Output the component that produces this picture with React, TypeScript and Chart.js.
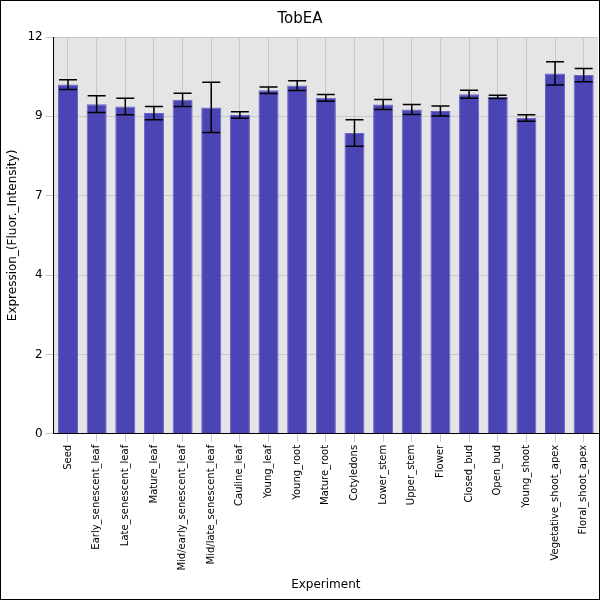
import React, { useEffect, useRef } from "react";
import { Chart, registerables } from "chart.js";
Chart.register(...registerables);

const categories = ["Seed","Early_senescent_leaf","Late_senescent_leaf","Mature_leaf","Mid/early_senescent_leaf","Mid/late_senescent_leaf","Cauline_leaf","Young_leaf","Young_root","Mature_root","Cotyledons","Lower_stem","Upper_stem","Flower","Closed_bud","Open_bud","Young_shoot","Vegetative_shoot_apex","Floral_shoot_apex"];
const values = [10.56,9.97,9.9,9.7,10.1,9.87,9.64,10.39,10.53,10.16,9.1,9.96,9.81,9.76,10.27,10.19,9.55,10.9,10.85];
const errors = [0.15,0.25,0.25,0.2,0.2,0.76,0.1,0.1,0.15,0.1,0.4,0.15,0.15,0.15,0.12,0.05,0.1,0.35,0.2];
const tickValues = [0,2.4,4.8,7.2,9.6,12];

const errPlugin = {
  id: "err",
  beforeDraw(chart: any) {
    const { ctx, chartArea: a } = chart;
    ctx.save();
    ctx.fillStyle = "#e5e5e5";
    ctx.fillRect(a.left, a.top, a.right - a.left, a.bottom - a.top);
    ctx.restore();
  },
  afterDatasetsDraw(chart: any) {
    const { ctx } = chart;
    const meta = chart.getDatasetMeta(0);
    const y = chart.scales.y;
    ctx.save();
    ctx.strokeStyle = "#000";
    ctx.lineWidth = 1.5;
    meta.data.forEach((b: any, i: number) => {
      const t = y.getPixelForValue(values[i] + errors[i]);
      const bo = y.getPixelForValue(values[i] - errors[i]);
      ctx.beginPath();
      ctx.moveTo(b.x, t); ctx.lineTo(b.x, bo);
      ctx.moveTo(b.x - 9, t); ctx.lineTo(b.x + 9, t);
      ctx.moveTo(b.x - 9, bo); ctx.lineTo(b.x + 9, bo);
      ctx.stroke();
    });
    ctx.restore();
  },
  afterDraw(chart: any) {
    const { ctx } = chart;
    ctx.save();
    ctx.strokeStyle = "#000";
    ctx.lineWidth = 1;
    ctx.strokeRect(0.5, 0.5, chart.width - 1, chart.height - 1);
    ctx.restore();
  },
};

export default function App() {
  const ref = useRef<HTMLCanvasElement>(null);
  useEffect(() => {
    document.body.style.margin = "0";
    const c = new Chart(ref.current!, {
      type: "bar",
      data: {
        labels: categories,
        datasets: [{ data: values, backgroundColor: "#4b44b4", borderColor: "#6a64c8", borderWidth: 1, barPercentage: 0.7, categoryPercentage: 1 }],
      },
      options: {
        animation: false,
        responsive: false,
        layout: { padding: { right: 2, left: 2, bottom: 4 } },
        plugins: {
          legend: { display: false },
          tooltip: { enabled: false },
          title: { display: true, text: "TobEA", color: "#000", font: { family: "DejaVu Sans", size: 15, weight: "normal" }, padding: { top: 10, bottom: 9 } },
        },
        scales: {
          x: {
            grid: { color: "#c8c8c8", offset: false },
            border: { color: "#000" },
            ticks: { color: "#000", maxRotation: 90, minRotation: 90, autoSkip: false, font: { family: "DejaVu Sans", size: 10 } },
            title: { display: true, text: "Experiment", color: "#000", font: { family: "DejaVu Sans", size: 12 } },
          },
          y: {
            min: 0, max: 12,
            afterBuildTicks: (s: any) => { s.ticks = tickValues.map((v) => ({ value: v })); },
            grid: { color: "#c8c8c8" },
            border: { color: "#000" },
            ticks: { color: "#000", callback: (v: any) => String(Math.floor(v)), font: { family: "DejaVu Sans", size: 12 } },
            title: { display: true, text: "Expression_(Fluor._Intensity)", color: "#000", font: { family: "DejaVu Sans", size: 12 } },
          },
        },
      },
      plugins: [errPlugin],
    });
    return () => c.destroy();
  }, []);
  return <canvas ref={ref} width={600} height={600} style={{ width: 600, height: 600, display: "block" }} />;
}
